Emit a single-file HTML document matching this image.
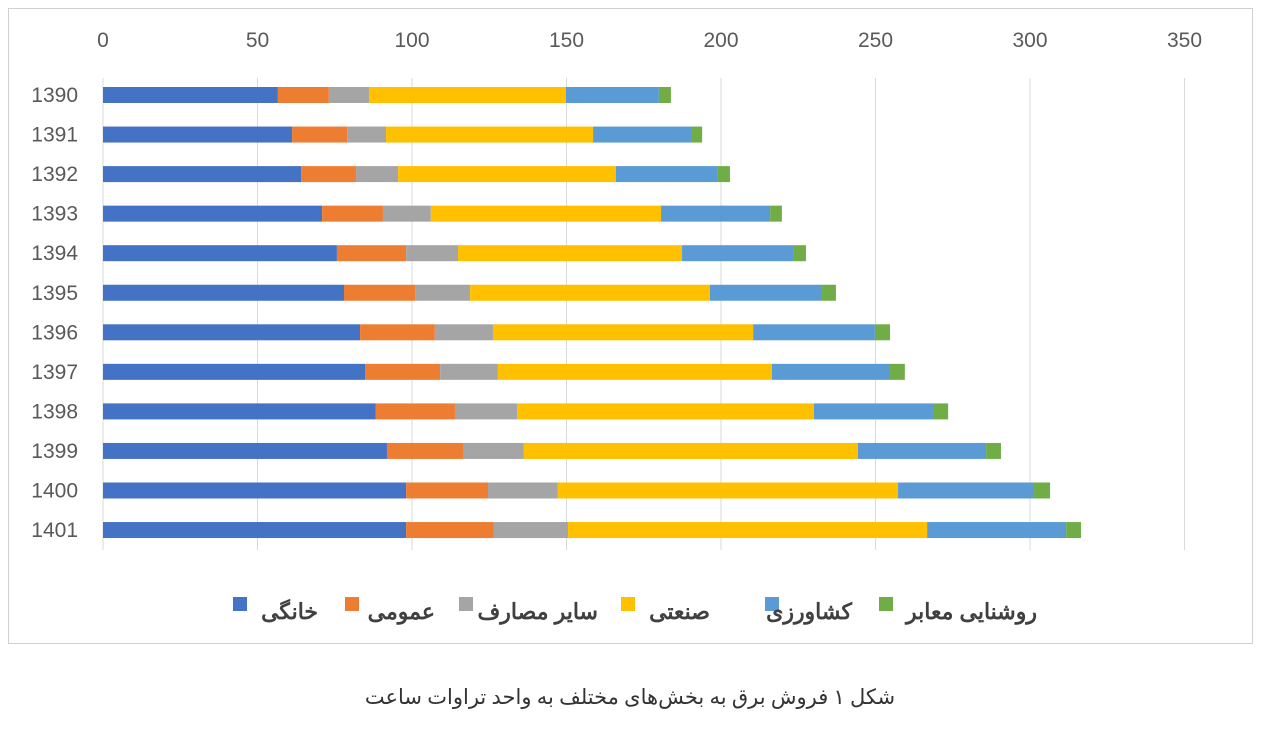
<!DOCTYPE html>
<html><head><meta charset="utf-8">
<style>
html,body{margin:0;padding:0;background:#fff;}
body{width:1261px;height:730px;overflow:hidden;font-family:"Liberation Sans","Noto Sans CJK SC",sans-serif;}
</style></head>
<body>
<svg id="chart" width="1261" height="730" xmlns="http://www.w3.org/2000/svg">
<rect x="8.5" y="8.5" width="1244" height="635" fill="#fff" stroke="#d0d0d0"/>
<g id="grid"></g>
<g id="bars"></g>
<g id="labels"></g>
<g id="legend"></g>
<text x="630" y="704" text-anchor="middle" font-size="21" fill="#333" font-family="'Liberation Serif','DejaVu Sans',serif" direction="rtl">شکل ۱ فروش برق به بخش‌های مختلف به واحد تراوات ساعت</text>
</svg>
<script>
const years=["1390","1391","1392","1393","1394","1395","1396","1397","1398","1399","1400","1401"];
const khanegi=[56.6,61.2,64.1,70.9,75.7,78,83.2,84.8,88.3,91.9,98.1,98.1];
const omumi=[16.5,17.8,17.8,19.7,22.4,23,24.2,24.3,25.6,24.6,26.5,28.4];
const sayer=[13,12.6,13.6,15.5,16.8,17.8,18.8,18.7,20.1,19.7,22.6,24];
const sanati=[63.7,67,70.5,74.5,72.5,77.6,84.2,88.7,96.1,108.1,110.1,116.2];
const keshavarzi=[30.1,31.7,33,35.3,36.2,36.3,39.4,38.2,38.5,41.5,44,45];
const roshanayi=[3.9,3.6,3.9,3.8,3.9,4.5,4.9,4.8,4.9,4.8,5.2,4.8];
const ticks=[0,50,100,150,200,250,300,350];
const seriesNames=["خانگی","عمومی","سایر مصارف","صنعتی","کشاورزی","روشنایی معابر"];

const colors=["#4472c4","#ed7d31","#a5a5a5","#ffc000","#5b9bd5","#70ad47"];
const series=[khanegi,omumi,sayer,sanati,keshavarzi,roshanayi];
const NS="http://www.w3.org/2000/svg";
const x0=103,pxPer=3.09;
const xs=v=>x0+v*pxPer;
const yc=i=>95+i*39.55;
const barH=16;
function mk(tag,attrs,parent){const e=document.createElementNS(NS,tag);for(const k in attrs)e.setAttribute(k,attrs[k]);parent.appendChild(e);return e;}
const grid=document.getElementById('grid'),bars=document.getElementById('bars'),labels=document.getElementById('labels'),legend=document.getElementById('legend');
ticks.forEach(t=>{
  const l=mk('line',{x1:xs(t),x2:xs(t),y1:78,y2:550,stroke:'#d9d9d9','stroke-width':1},grid);
  
  
  const tx=mk('text',{x:xs(t),y:47,'text-anchor':'middle','font-size':21,fill:'#595959'},labels);
  tx.textContent=t;
  
  
});
years.forEach((y,i)=>{
  const tx=mk('text',{x:78,y:yc(i)+7,'text-anchor':'end','font-size':21,fill:'#595959'},labels);
  tx.textContent=y;
  
  
  let acc=0;
  series.forEach((s,j)=>{
    const r=mk('rect',{x:xs(acc),y:yc(i)-barH/2,width:s[i]*pxPer,height:barH,fill:colors[j]},bars);
    
    
    acc+=s[i];
  });
});
const legX=[233,345,459,621,765,879];
const legTextEnd=[318,435,598,710,852,1037];
seriesNames.forEach((n,j)=>{
  const r=mk('rect',{x:legX[j],y:597,width:14,height:14,fill:colors[j]},legend);
  
  
  const t=mk('text',{x:legTextEnd[j],y:619,'text-anchor':'start','font-size':22,'font-weight':'bold',fill:'#404040',direction:'rtl'},legend);
  t.textContent=n;
  
  
});
</script>
</body></html>
